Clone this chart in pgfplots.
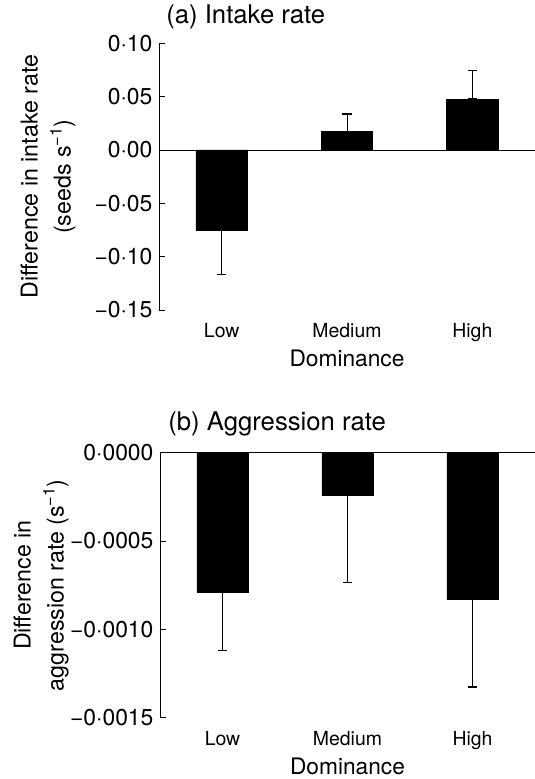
\documentclass[border=0pt]{standalone}
\usepackage{fontspec}
\setmainfont{TeX Gyre Heros}
\usepackage{pgfplots}
\pgfplotsset{compat=1.18}
\usepackage{pgfplotstable}

\pgfplotstableread{
x y ep em
0 -0.0754 0 0.0415
1 0.0172 0.0165 0
2 0.0477 0.0266 0
}\intake

\pgfplotstableread{
x y ep em
0 -0.000790 0 0.000330
1 -0.000238 0 0.000497
2 -0.000832 0 0.000495
}\aggr

\newcommand\tickfont{\fontsize{19.5}{22}\selectfont}
\newcommand\ytickfont{\fontsize{23}{26}\selectfont}

\pgfplotsset{
 panel/.style={
  scale only axis, width=376bp, height=266.7bp,
  axis y line=left, axis x line=bottom,
  axis line style={-, line width=0.8pt},
  x axis line style={draw=none},
  xmin=-0.5, xmax=2.5, enlargelimits=false,
  scaled y ticks=false,
  xtick={0,1,2}, xticklabels={Low,Medium,High},
  x tick style={draw=none},
  tick align=inside, major tick length=6bp,
  y tick style={line width=0.8pt, black},
  yticklabel style={font=\ytickfont, xshift=-3bp},
  xticklabel style={font=\tickfont, anchor=base, yshift=-21.5bp},
  xlabel style={at={(axis description cs:0.5,0)}, anchor=base, yshift=-56.7bp, font=\fontsize{22.8}{27}\selectfont},
  ylabel style={anchor=center, align=center, font=\fontsize{23.3}{33}\selectfont},
  xlabel={Dominance},
  ybar, bar width=51.4bp, bar shift=0pt,
  clip=false,
 },
 barstyle/.style={fill=black, draw=black, line width=0.5pt,
  error bars/.cd, y dir=both, y explicit,
  error bar style={line width=0.9pt, black},
  error mark options={rotate=90, mark size=4.6bp, line width=1.4pt, black}},
}

\begin{document}
\begin{tikzpicture}
\useasboundingbox (0,0) rectangle (535bp,-779bp);

\begin{axis}[panel,
  at={(159bp,-310bp)}, anchor=south west,
  ymin=-0.15, ymax=0.10,
  ytick={-0.15,-0.10,-0.05,0,0.05,0.10},
  yticklabels={−0·15,−0·10,−0·05,0·00,0·05,0·10},
  ylabel={Difference in intake rate\\(seeds s\textsuperscript{−1})},
  ylabel style={at={(axis description cs:-0.295,0.5)}},
  title={(a) Intake rate},
  title style={at={(axis description cs:0.01,1.05)}, anchor=base west, font=\fontsize{25.8}{30}\selectfont},
]
\addplot[barstyle] table[x=x, y=y, y error plus=ep, y error minus=em] {\intake};
\addplot[sharp plot, black, line width=0.8pt, mark=none] coordinates {(-0.5,0) (2.5,0)};
\end{axis}

\begin{axis}[panel,
  at={(160bp,-717.7bp)}, anchor=south west, width=375bp, height=265bp,
  ymin=-0.0015, ymax=0,
  ytick={-0.0015,-0.0010,-0.0005,0},
  yticklabels={−0·0015,−0·0010,−0·0005,0·0000},
  ylabel={Difference in\\aggression rate (s\textsuperscript{−1})},
  ylabel style={at={(axis description cs:-0.317,0.5)}},
  title={(b) Aggression rate},
  title style={at={(axis description cs:0.013,1.0604)}, anchor=base west, font=\fontsize{25.8}{30}\selectfont},
]
\addplot[barstyle] table[x=x, y=y, y error plus=ep, y error minus=em] {\aggr};
\addplot[sharp plot, black, line width=0.8pt, mark=none] coordinates {(-0.5,0) (2.5,0)};
\end{axis}
\end{tikzpicture}
\end{document}
